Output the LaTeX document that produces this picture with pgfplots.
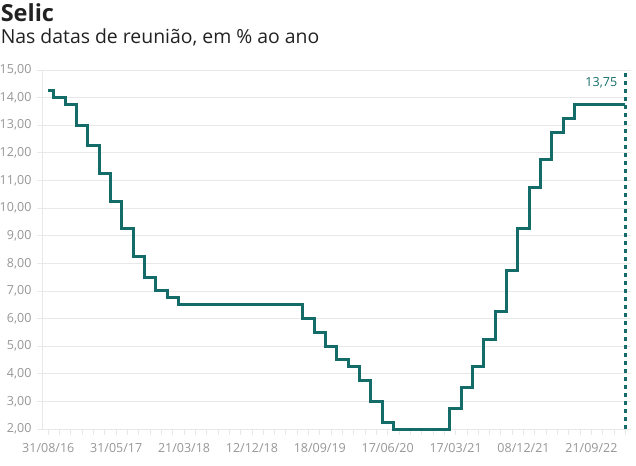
\documentclass[border=0pt]{standalone}
\usepackage{fontspec}
\setmainfont{Open Sans}
\usepackage{pgfplots}
\pgfplotsset{compat=1.18}
\definecolor{teal1}{RGB}{20,108,104}
\definecolor{gridc}{RGB}{232,232,232}
\definecolor{labc}{RGB}{150,150,150}
\definecolor{titc}{RGB}{34,34,34}
\pgfplotstableread{
x y
0 14.25
1 14.00
2 13.75
3 13.00
4 12.25
5 11.25
6 10.25
7 9.25
8 8.25
9 7.50
10 7.00
11 6.75
12 6.50
13 6.50
14 6.50
15 6.50
16 6.50
17 6.50
18 6.50
19 6.50
20 6.50
21 6.50
22 6.50
23 6.00
24 5.50
25 5.00
26 4.50
27 4.25
28 3.75
29 3.00
30 2.25
31 2.00
32 2.00
33 2.00
34 2.00
35 2.00
36 2.75
37 3.50
38 4.25
39 5.25
40 6.25
41 7.75
42 9.25
43 10.75
44 11.75
45 12.75
46 13.25
47 13.75
48 13.75
49 13.75
50 13.75
51 13.75
}\selic
\begin{document}
\begin{tikzpicture}
\useasboundingbox (-42.6pt,-36pt) rectangle (593.4pt,429pt);
\begin{axis}[
  scale only axis, width=588.4pt, height=359pt,
  xmin=-0.5, xmax=51.5, ymin=2, ymax=15,
  clip=false,
  axis lines=left,
  axis line style={draw=gridc, line width=0.8pt, -},
  ytick={2,...,15},
  xtick={0,6,...,48},
  xticklabels={31/08/16,31/05/17,21/03/18,12/12/18,18/09/19,17/06/20,17/03/21,08/12/21,21/09/22},
  minor xtick={0,...,51},
  ymajorgrids,
  major grid style={draw=gridc, line width=0.8pt},
  tick align=outside,
  major tick length=6pt, minor tick length=6pt,
  tick style={draw=gridc, line width=0.8pt},
  /pgf/number format/.cd, fixed, fixed zerofill, precision=2, use comma, 1000 sep={}, assume math mode=true,
  /pgfplots/.cd,
  tick label style={font=\fontsize{12.5}{14}\selectfont, text=labc},
  yticklabel style={anchor=east, inner sep=0pt, xshift=-5pt},
  xticklabel style={anchor=north, inner sep=0pt, yshift=-8pt},
]
\addplot[const plot mark mid, teal1, line width=3pt] table[x=x, y=y] {\selic};
\addplot[teal1, line width=2.5pt, dash pattern=on 4pt off 4pt] coordinates {(51,2) (51,15)};
\node[anchor=base east, inner sep=0pt, text=teal1, font=\fontsize{12.5}{14}\selectfont, xshift=-8pt] at (axis cs:51,14.385) {13,75};
\end{axis}
\node[anchor=base west, inner sep=0pt, text=titc, font=\bfseries\fontsize{23.5}{26}\selectfont] at (-42pt,407.3pt) {Selic};
\node[anchor=base west, inner sep=0pt, text=titc, font=\fontsize{19.4}{22}\selectfont] at (-42pt,385.7pt) {Nas datas de reunião, em \% ao ano};
\end{tikzpicture}
\end{document}
